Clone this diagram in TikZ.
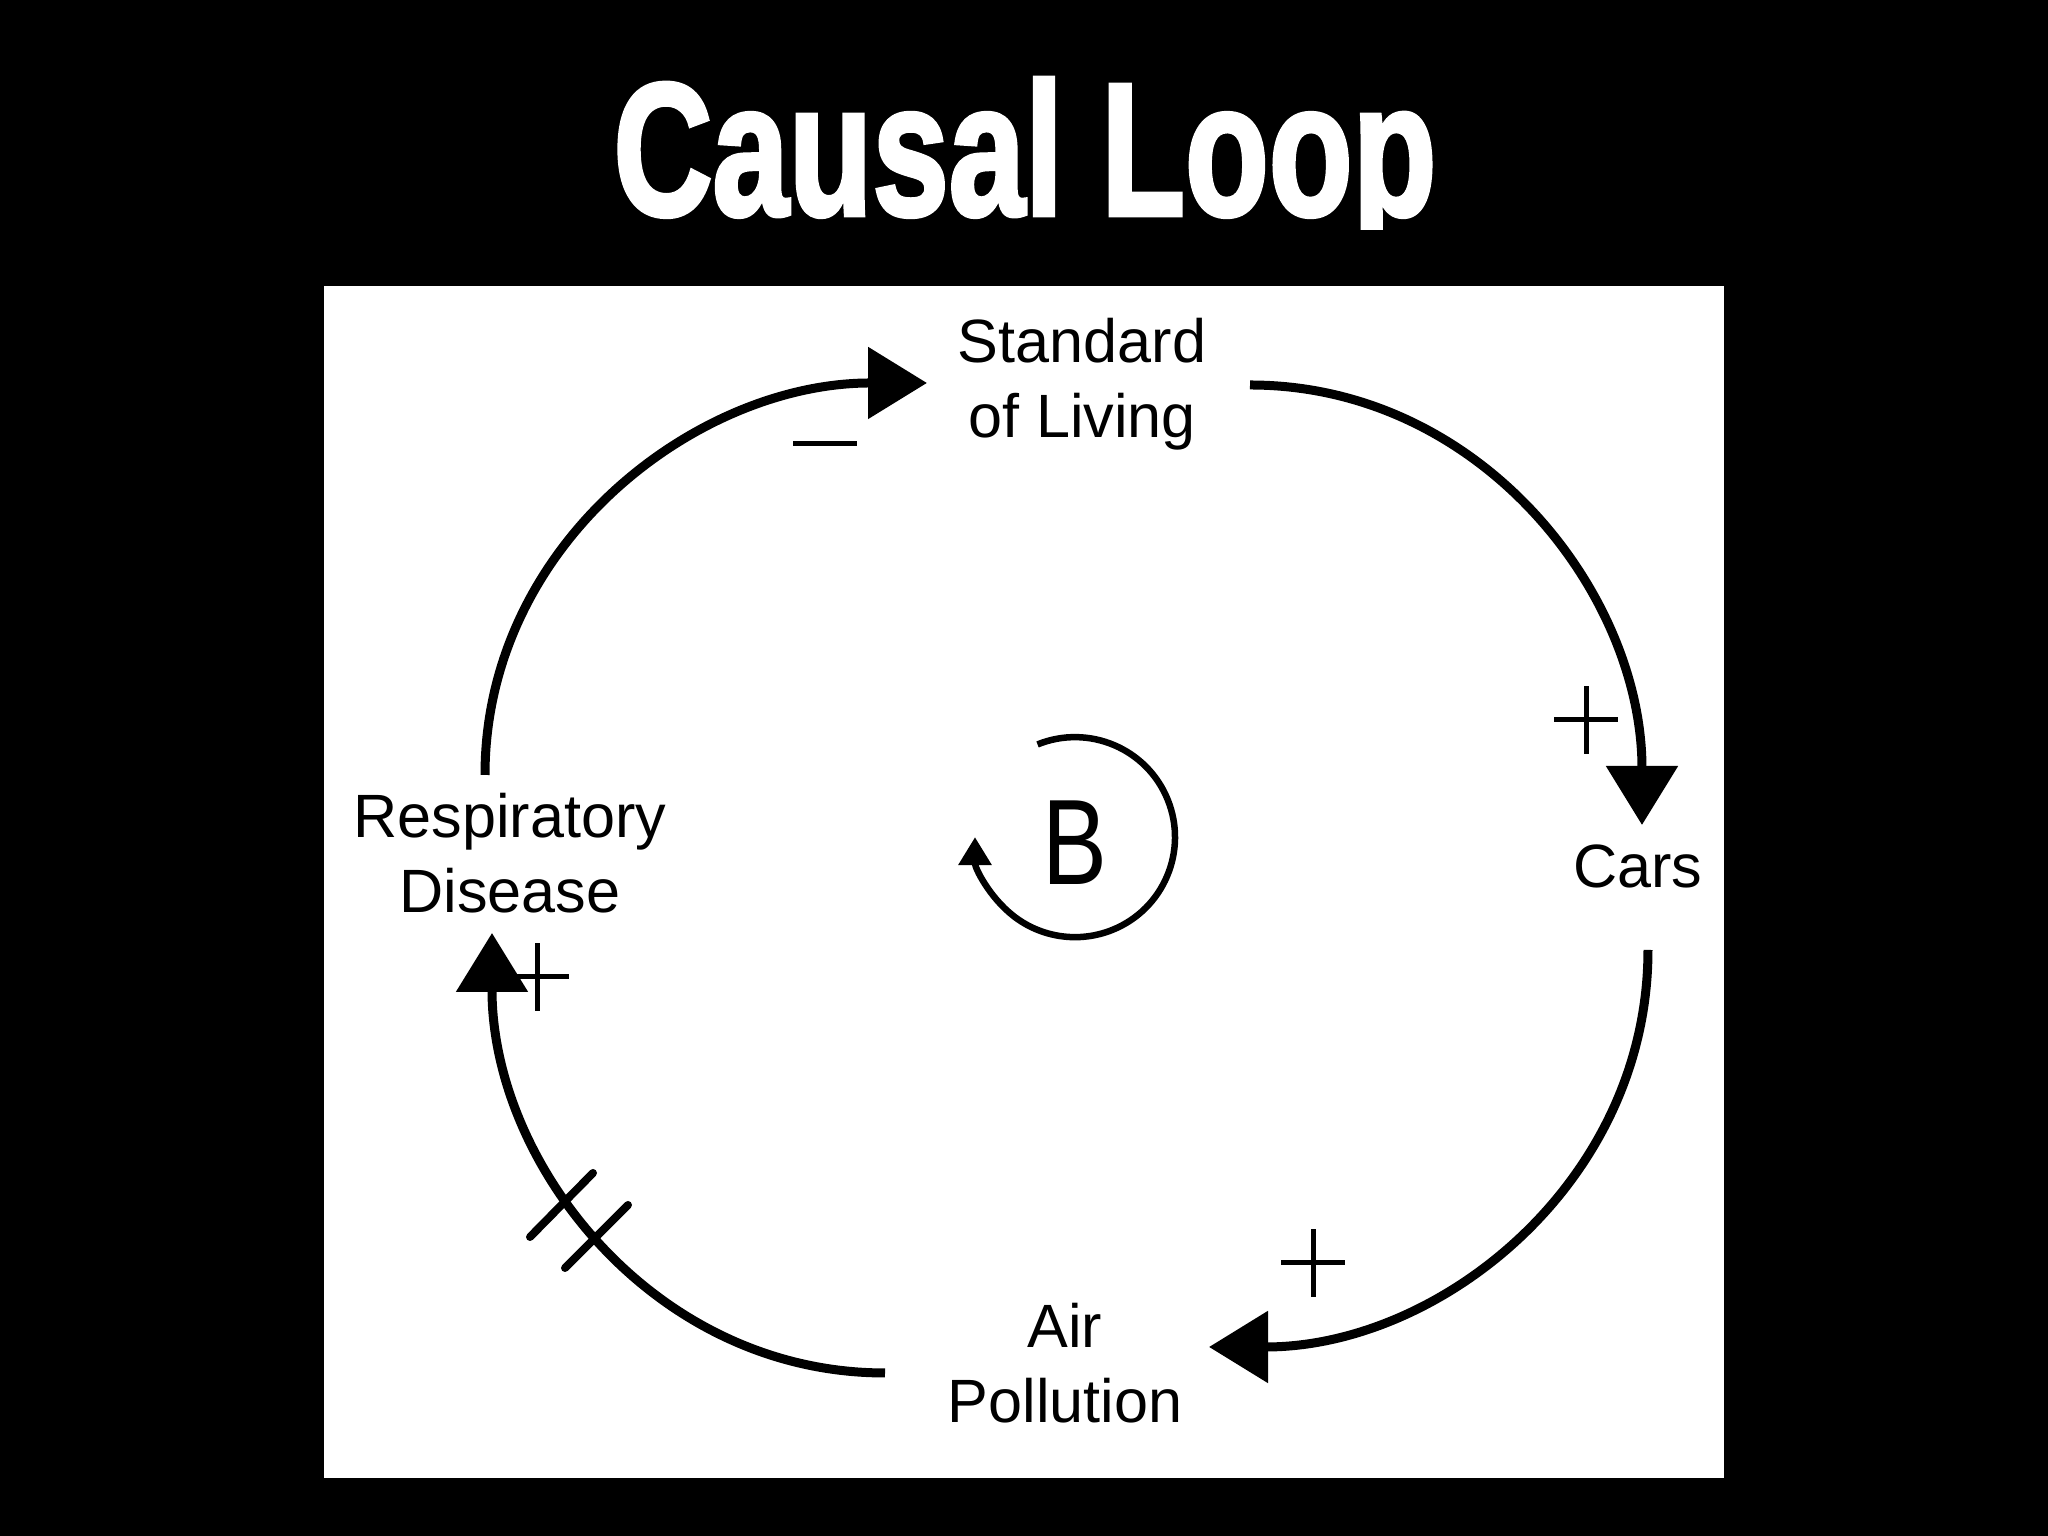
\documentclass[tikz,border=0pt]{standalone}
\usepackage{fontspec}
\setmainfont{Liberation Sans}
\newfontfamily\titlefont[FakeBold=2.5]{Liberation Sans}
\usepackage{xcolor}
\usetikzlibrary{arrows.meta}

\begin{document}
\begin{tikzpicture}
\tikzset{every node/.style={inner sep=0pt,text=black}}
\tikzset{factor/.style={anchor=base,align=center,font=\fontsize{17.4}{21.6}\selectfont}}
\tikzset{link/.style={line width=0.09cm,-{Triangle[length=0.59cm,width=0.70cm]}}}
\tikzset{bloop/.style={line width=0.065cm,-{Triangle[length=0.28cm,width=0.32cm]}}}
\tikzset{sign/.style={line width=0.05cm}}
\tikzset{delay/.style={line width=0.08cm,line cap=round}}
\tikzset{signplus/.pic={\draw[sign] (-0.32,0) -- (0.32,0) (0,-0.34) -- (0,0.34);}}
\tikzset{signminus/.pic={\draw[sign] (-0.32,0) -- (0.32,0);}}

% slide and white panel
\fill[black] (0,0) rectangle (20.48,15.36);
\fill[white] (3.24,0.58) rectangle (17.24,12.50);
\useasboundingbox (0,0) rectangle (20.48,15.36);

% title, short descender
\begin{scope}
\clip (0,13.06) rectangle (20.48,15.36);
\node[anchor=base,text=white,font=\titlefont\bfseries] (title) at (10.25,13.21)
  {\resizebox{8.23cm}{1.37cm}{Causal Loop}};
\end{scope}

% factors (anchored at the last line)
\node[factor] (sol) at (10.82,10.98) {Standard\\of Living};
\node[factor] (cars) at (16.38,6.48) {Cars};
\node[factor] (airpol) at (10.65,1.13) {Air\\Pollution};
\node[factor] (resp) at (5.10,6.23) {Respiratory\\Disease};
\node[anchor=base,font=\fontsize{34.6}{40}\selectfont] (bsym) at (10.75,6.51)
  {\scalebox{0.8}[1]{B}};

% arc ends
\coordinate (resp-out) at (4.85,7.61);
\coordinate (sol-in) at (9.27,11.53);
\coordinate (sol-out) at (12.50,11.51);
\coordinate (cars-in) at (16.42,7.11);
\coordinate (cars-out) at (16.48,5.86);
\coordinate (airpol-in) at (12.09,1.89);
\coordinate (airpol-out) at (8.85,1.63);
\coordinate (resp-in) at (4.92,6.03);

\draw[link] (resp-out) to[out=90,in=180] (sol-in);
\draw[link] (sol-out) to[out=0,in=90] (cars-in);
\draw[link] (cars-out) to[out=-90,in=0] (airpol-in);
\draw[link] (airpol-out) to[out=180,in=-90] (resp-in);

% delay
\draw[delay] (5.30,2.99) -- (5.93,3.63);
\draw[delay] (5.65,2.68) -- (6.28,3.31);

% polarities
\pic at (8.25,10.92) {signminus};
\pic at (15.86,8.16) {signplus};
\pic at (13.13,2.73) {signplus};
\pic at (5.37,5.59) {signplus};

% loop symbol
\draw[bloop] ([yshift=0.06cm]bsym.center) ++(112:1) arc[start angle=112,end angle=-180,radius=1];

\end{tikzpicture}
\end{document}
